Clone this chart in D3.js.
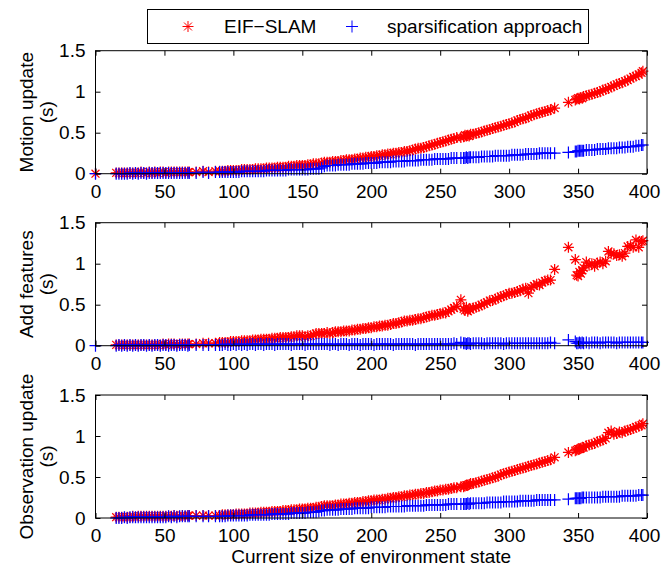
<!DOCTYPE html>
<html>
<head>
<meta charset="utf-8">
<script src="https://cdn.jsdelivr.net/npm/d3@7"></script>
<style>
  html, body { margin: 0; padding: 0; background: #fff; }
  svg { display: block; font-family: "Liberation Sans", Arial, sans-serif; }
</style>
</head>
<body>
<svg id="chart" width="661" height="570"></svg>
<script>
// ---------------- DATA ----------------
// state sizes (shared by all series)
const xs = [0,
  15,17,19,21,23,25,27,29,31,33, 35,37,39,41,43,45,47,49,51,53, 55,57,59,61,63,65,67,68,
  73,78,82,87,
  90,92,94,96,98,100,102,104,106,108, 110,112,114,116,118,120,122,124,126,128,
  130,132,134,136,138,140,142,144,146,148, 150,152,154,156,158,160,162,164,166,
  168,170,172,174,176,178,180,182,184,186, 188,190,192,194,196,198,200,202,204,206,
  208,210,212,214,216,218,220,222,224,226, 228,230,232,234,236,238,240,242,244,246,
  248,250,252,254,256,258,260,262,
  265,267,268,269,270,271,272,274,276,278, 280,282,284,286,288,290,292,294,296,298,
  300,302,304,306,308,310,312,314,316,318, 320,322,324,326,328,330,333,
  343,
  348,349,350,351,352,353,354, 356,358,360,362,364,366,368,370,372,374,
  376,378,380,382,384,386,388,390,392,394,396, 397];

const motionEIF = [0,
  0.01,0.01,0.01,0.01,0.01,0.01,0.01,0.01,0.01,0.02, 0.01,0.01,0.02,0.01,0.02,0.01,0.02,0.02,0.01,0.02,
  0.02,0.02,0.02,0.02,0.02,0.02,0.02,0.02,
  0.02,0.03,0.02,0.03,
  0.03,0.03,0.03,0.04,0.04,0.04,0.04,0.04,0.05,0.05, 0.05,0.05,0.05,0.06,0.06,0.06,0.06,0.07,0.07,0.07,
  0.07,0.08,0.08,0.08,0.08,0.09,0.09,0.09,0.10,0.10, 0.10,0.10,0.11,0.11,0.12,0.12,0.12,0.13,0.14,
  0.14,0.14,0.15,0.15,0.15,0.16,0.16,0.17,0.17,0.17, 0.18,0.18,0.19,0.19,0.20,0.20,0.21,0.21,0.22,0.22,
  0.23,0.23,0.24,0.24,0.25,0.25,0.26,0.26,0.27,0.27, 0.28,0.29,0.30,0.31,0.31,0.32,0.33,0.34,0.35,0.36,
  0.37,0.38,0.39,0.40,0.41,0.42,0.43,0.44,
  0.44,0.45,0.47,0.46,0.47,0.46,0.48,0.48,0.49,0.50, 0.51,0.52,0.53,0.54,0.55,0.56,0.57,0.58,0.59,0.60,
  0.61,0.62,0.63,0.65,0.66,0.67,0.68,0.69,0.71,0.72, 0.73,0.74,0.75,0.76,0.77,0.78,0.80,
  0.87,
  0.90,0.91,0.92,0.91,0.93,0.92,0.94, 0.95,0.96,0.97,0.98,0.99,1.00,1.02,1.03,1.04,1.06,
  1.07,1.09,1.10,1.11,1.13,1.14,1.16,1.18,1.19,1.21,1.23, 1.25];

const motionSparse = [0,
  0.00,0.00,0.00,0.00,0.00,0.01,0.00,0.01,0.00,0.01, 0.01,0.00,0.01,0.01,0.01,0.01,0.01,0.01,0.01,0.01,
  0.01,0.01,0.01,0.01,0.01,0.01,0.01,0.01,
  0.01,0.02,0.01,0.02,
  0.02,0.02,0.02,0.02,0.02,0.02,0.02,0.02,0.03,0.03, 0.03,0.03,0.03,0.03,0.03,0.03,0.03,0.04,0.04,0.04,
  0.04,0.04,0.04,0.04,0.04,0.05,0.05,0.05,0.05,0.05, 0.05,0.05,0.05,0.06,0.06,0.06,0.06,0.07,0.09,
  0.10,0.10,0.10,0.10,0.11,0.11,0.11,0.11,0.11,0.12, 0.12,0.12,0.12,0.12,0.13,0.13,0.13,0.13,0.13,0.14,
  0.14,0.14,0.14,0.14,0.15,0.15,0.15,0.15,0.15,0.16, 0.16,0.16,0.16,0.16,0.17,0.17,0.17,0.17,0.17,0.18,
  0.18,0.18,0.18,0.18,0.18,0.19,0.19,0.19,
  0.19,0.19,0.19,0.20,0.19,0.20,0.20,0.20,0.20,0.20, 0.21,0.21,0.21,0.21,0.21,0.22,0.22,0.22,0.22,0.22,
  0.22,0.23,0.23,0.23,0.23,0.23,0.24,0.24,0.24,0.24, 0.24,0.25,0.25,0.25,0.25,0.25,0.25,
  0.26,
  0.27,0.27,0.28,0.28,0.28,0.28,0.28, 0.29,0.29,0.29,0.29,0.30,0.30,0.30,0.30,0.31,0.31,
  0.31,0.31,0.32,0.32,0.32,0.33,0.33,0.33,0.34,0.34,0.35, 0.35];

const addEIF = [null,
  0.01,0.01,0.01,0.01,0.01,0.01,0.01,0.01,0.01,0.01, 0.01,0.01,0.01,0.01,0.01,0.01,0.01,0.02,0.01,0.02,
  0.02,0.02,0.01,0.02,0.02,0.02,0.02,0.02,
  0.02,0.03,0.03,0.03,
  0.04,0.04,0.04,0.04,0.05,0.05,0.05,0.05,0.06,0.06, 0.06,0.06,0.07,0.07,0.07,0.08,0.08,0.08,0.08,0.09,
  0.09,0.09,0.10,0.10,0.10,0.10,0.11,0.11,0.12,0.12, 0.12,0.11,0.12,0.12,0.13,0.15,0.15,0.15,0.15,
  0.16,0.15,0.16,0.17,0.17,0.17,0.18,0.18,0.18,0.19, 0.19,0.20,0.20,0.21,0.21,0.22,0.22,0.23,0.23,0.24,
  0.24,0.25,0.25,0.26,0.27,0.27,0.28,0.29,0.30,0.30, 0.31,0.31,0.32,0.33,0.33,0.34,0.35,0.36,0.37,0.37,
  0.38,0.39,0.40,0.40,0.42,0.44,0.46,0.48,
  0.56,0.45,0.43,0.47,0.42,0.45,0.44,0.46,0.47,0.48, 0.50,0.51,0.53,0.55,0.55,0.57,0.58,0.60,0.61,0.62,
  0.64,0.64,0.65,0.66,0.67,0.69,0.70,0.64,0.71,0.73, 0.75,0.74,0.77,0.79,0.80,0.80,0.93,
  1.20,
  1.05,0.86,0.85,0.90,0.88,0.92,0.95, 1.02,0.98,1.00,0.97,1.01,1.02,1.00,1.03,1.15,1.12,
  1.12,1.10,1.11,1.09,1.13,1.21,1.22,1.20,1.29,1.20,1.27, 1.28];

const addSparse = [0,
  0.00,0.01,0.00,0.01,0.00,0.01,0.00,0.01,0.00,0.01, 0.01,0.00,0.01,0.00,0.01,0.01,0.00,0.01,0.01,0.00,
  0.01,0.01,0.00,0.01,0.01,0.01,0.00,0.01,
  0.01,0.01,0.01,0.01,
  0.01,0.01,0.02,0.01,0.01,0.02,0.01,0.02,0.01,0.02, 0.01,0.02,0.02,0.01,0.02,0.02,0.01,0.02,0.02,0.02,
  0.01,0.02,0.02,0.02,0.02,0.02,0.01,0.02,0.02,0.02, 0.02,0.01,0.02,0.02,0.02,0.02,0.02,0.02,0.02,
  0.02,0.01,0.02,0.02,0.01,0.02,0.02,0.02,0.01,0.02, 0.02,0.02,0.01,0.02,0.02,0.02,0.02,0.01,0.02,0.02,
  0.02,0.02,0.02,0.02,0.01,0.02,0.02,0.02,0.02,0.02, 0.02,0.02,0.01,0.02,0.02,0.02,0.02,0.02,0.02,0.02,
  0.02,0.02,0.02,0.02,0.02,0.02,0.03,0.02,
  0.04,0.03,0.03,0.02,0.03,0.03,0.02,0.03,0.03,0.03, 0.03,0.02,0.03,0.03,0.03,0.03,0.03,0.03,0.02,0.03,
  0.03,0.03,0.03,0.03,0.03,0.03,0.03,0.03,0.03,0.03, 0.03,0.03,0.03,0.03,0.03,0.04,0.03,
  0.07,
  0.05,0.03,0.03,0.04,0.03,0.04,0.03, 0.04,0.03,0.04,0.04,0.04,0.03,0.04,0.04,0.04,0.04,
  0.04,0.03,0.04,0.04,0.04,0.04,0.04,0.04,0.04,0.04,0.04, 0.04];

const obsEIF = [null,
  0.01,0.01,0.01,0.01,0.01,0.01,0.02,0.01,0.02,0.02, 0.02,0.02,0.02,0.02,0.02,0.02,0.02,0.02,0.02,0.02,
  0.02,0.03,0.02,0.02,0.03,0.02,0.03,0.03,
  0.03,0.03,0.03,0.03,
  0.03,0.04,0.04,0.04,0.04,0.04,0.05,0.05,0.05,0.05, 0.05,0.06,0.06,0.06,0.06,0.07,0.07,0.07,0.07,0.08,
  0.08,0.08,0.08,0.09,0.09,0.09,0.10,0.10,0.10,0.11, 0.11,0.11,0.12,0.12,0.12,0.13,0.13,0.14,0.15,
  0.15,0.15,0.15,0.16,0.16,0.17,0.17,0.17,0.18,0.18, 0.19,0.19,0.19,0.20,0.20,0.21,0.21,0.22,0.22,0.22,
  0.23,0.23,0.24,0.24,0.25,0.25,0.26,0.26,0.27,0.27, 0.28,0.28,0.29,0.29,0.30,0.30,0.31,0.31,0.32,0.33,
  0.33,0.34,0.34,0.35,0.35,0.36,0.37,0.37,
  0.38,0.38,0.39,0.40,0.40,0.41,0.42,0.42,0.43,0.44, 0.45,0.46,0.47,0.48,0.49,0.50,0.51,0.53,0.54,0.55,
  0.56,0.57,0.58,0.59,0.60,0.61,0.62,0.63,0.64,0.65, 0.66,0.67,0.68,0.69,0.70,0.71,0.74,
  0.80,
  0.82,0.83,0.84,0.84,0.85,0.86,0.86, 0.88,0.89,0.90,0.91,0.93,0.94,0.95,0.97,1.04,1.06,
  1.02,1.03,1.05,1.04,1.06,1.07,1.08,1.09,1.11,1.12,1.13, 1.15];

const obsSparse = [null,
  0.00,0.00,0.00,0.01,0.00,0.01,0.01,0.01,0.01,0.01, 0.01,0.01,0.01,0.01,0.01,0.01,0.01,0.01,0.01,0.02,
  0.01,0.02,0.01,0.02,0.02,0.02,0.02,0.02,
  0.02,0.02,0.02,0.02,
  0.02,0.02,0.02,0.03,0.03,0.03,0.03,0.03,0.03,0.03, 0.03,0.04,0.04,0.04,0.04,0.04,0.04,0.04,0.04,0.05,
  0.05,0.05,0.05,0.05,0.05,0.05,0.06,0.06,0.06,0.06, 0.06,0.06,0.07,0.07,0.07,0.07,0.08,0.09,0.09,
  0.10,0.10,0.10,0.10,0.10,0.11,0.11,0.11,0.11,0.11, 0.12,0.12,0.12,0.12,0.12,0.12,0.13,0.13,0.13,0.13,
  0.13,0.13,0.14,0.14,0.14,0.14,0.14,0.14,0.14,0.15, 0.15,0.15,0.15,0.15,0.15,0.15,0.16,0.16,0.16,0.16,
  0.16,0.16,0.16,0.16,0.17,0.17,0.17,0.17,
  0.17,0.17,0.17,0.17,0.18,0.17,0.18,0.18,0.18,0.18, 0.18,0.18,0.19,0.19,0.19,0.19,0.19,0.19,0.20,0.20,
  0.20,0.20,0.20,0.20,0.21,0.21,0.21,0.21,0.21,0.21, 0.22,0.22,0.22,0.22,0.22,0.22,0.22,
  0.23,
  0.24,0.24,0.24,0.24,0.24,0.25,0.25, 0.25,0.25,0.25,0.25,0.25,0.25,0.26,0.26,0.26,0.26,
  0.26,0.26,0.26,0.27,0.27,0.27,0.27,0.27,0.27,0.28,0.28, 0.28];

const xTicks = [0, 50, 100, 150, 200, 250, 300, 350, 400];
const yTicks = [0, 0.5, 1, 1.5];
const yTickLabels = ["0", "0.5", "1", "1.5"];
const panelLabels = [["Motion update", "(s)"], ["Add features", "(s)"], ["Observation update", "(s)"]];
const seriesNames = ["EIF\u2212SLAM", "sparsification approach"];
const xLabel = "Current size of environment state";

// ---------------- LAYOUT ----------------
const svg = d3.select("#chart");
const left = 95.5, right = 647, panelH = 123;
const tops = [50.7, 222.7, 395];
const fontSize = 19;
const red = "#ff0000", blue = "#0000ff";
const tickLen = 5;

const x = d3.scaleLinear().domain([0, 400]).range([left, right]);

function starPath(h) {
  const d = h * 0.72;
  return `M${-h},0H${h}M0,${-h}V${h}M${-d},${-d}L${d},${d}M${-d},${d}L${d},${-d}`;
}
function plusPath(h) {
  return `M${-h},0H${h}M0,${-h}V${h}`;
}
const starD = starPath(5.5), plusD = plusPath(6);

const panels = [
  [motionEIF, motionSparse],
  [addEIF, addSparse],
  [obsEIF, obsSparse]
];

panels.forEach((pair, i) => {
  const top = tops[i];
  const y = d3.scaleLinear().domain([0, 1.5]).range([top + panelH, top]);
  const g = svg.append("g");

  g.append("rect").attr("x", left).attr("y", top)
    .attr("width", right - left).attr("height", panelH)
    .attr("fill", "#fff");

  const n = xs.length;
  const mk = (arr) => d3.range(Math.min(n, arr.length))
    .filter(k => arr[k] !== null && arr[k] !== undefined)
    .map(k => ({ x: xs[k], y: arr[k] }));

  g.append("g").selectAll("path").data(mk(pair[0])).join("path")
    .attr("d", starD)
    .attr("transform", d => `translate(${x(d.x)},${y(d.y)})`)
    .attr("fill", "none").attr("stroke", red).attr("stroke-width", 1.25);

  g.append("g").selectAll("path").data(mk(pair[1])).join("path")
    .attr("d", plusD)
    .attr("transform", d => `translate(${x(d.x)},${y(d.y)})`)
    .attr("fill", "none").attr("stroke", blue).attr("stroke-width", 1.2);

  const bottomAxis = d3.axisBottom(x).tickValues(xTicks).tickSizeInner(-tickLen).tickSizeOuter(0).tickPadding(10);
  const topAxis = d3.axisTop(x).tickValues(xTicks).tickSizeInner(-tickLen).tickSizeOuter(0).tickFormat("");
  const leftAxis = d3.axisLeft(y).tickValues(yTicks).tickSizeInner(-tickLen).tickSizeOuter(0).tickPadding(10)
    .tickFormat((d, k) => yTickLabels[k]);
  const rightAxis = d3.axisRight(y).tickValues(yTicks).tickSizeInner(-tickLen).tickSizeOuter(0).tickFormat("");

  const ax = [
    g.append("g").attr("transform", `translate(0,${top + panelH})`).call(bottomAxis),
    g.append("g").attr("transform", `translate(0,${top})`).call(topAxis),
    g.append("g").attr("transform", `translate(${left},0)`).call(leftAxis),
    g.append("g").attr("transform", `translate(${right},0)`).call(rightAxis)
  ];
  ax.forEach(a => {
    a.select(".domain").remove();
    a.selectAll("line").attr("stroke", "#000").attr("stroke-width", 1);
    a.selectAll("text").attr("fill", "#000").attr("font-size", fontSize)
      .attr("font-family", "Liberation Sans, Arial, sans-serif");
  });
  ax[0].selectAll("text").attr("dy", null).attr("y", 24)
    .attr("dx", d => d === 400 ? -3 : null);

  g.append("rect").attr("x", left).attr("y", top)
    .attr("width", right - left).attr("height", panelH)
    .attr("fill", "none").attr("stroke", "#000").attr("stroke-width", 1);

  const cy = top + panelH / 2;
  const lbl = g.append("text")
    .attr("transform", `translate(0,${cy}) rotate(-90)`)
    .attr("text-anchor", "middle").attr("font-size", fontSize).attr("fill", "#000");
  lbl.append("tspan").attr("x", 0).attr("y", 33).text(panelLabels[i][0]);
  lbl.append("tspan").attr("x", 0).attr("y", 53).text(panelLabels[i][1]);
});

svg.append("text").attr("x", (left + right) / 2).attr("y", 563)
  .attr("text-anchor", "middle").attr("font-size", fontSize).attr("fill", "#000")
  .text(xLabel);

const lg = svg.append("g");
lg.append("rect").attr("x", 147.5).attr("y", 9.5).attr("width", 441).attr("height", 34)
  .attr("fill", "#fff").attr("stroke", "#000").attr("stroke-width", 1);
const legendItems = [
  { name: seriesNames[0], color: red, d: starD, mx: 188, tx: 224 },
  { name: seriesNames[1], color: blue, d: plusD, mx: 352, tx: 387 }
];
legendItems.forEach(it => {
  lg.append("path").attr("d", it.d).attr("transform", `translate(${it.mx},26.5)`)
    .attr("fill", "none").attr("stroke", it.color).attr("stroke-width", 1);
  lg.append("text").attr("x", it.tx).attr("y", 33).attr("font-size", fontSize)
    .attr("fill", "#000").text(it.name);
});
</script>
</body>
</html>
